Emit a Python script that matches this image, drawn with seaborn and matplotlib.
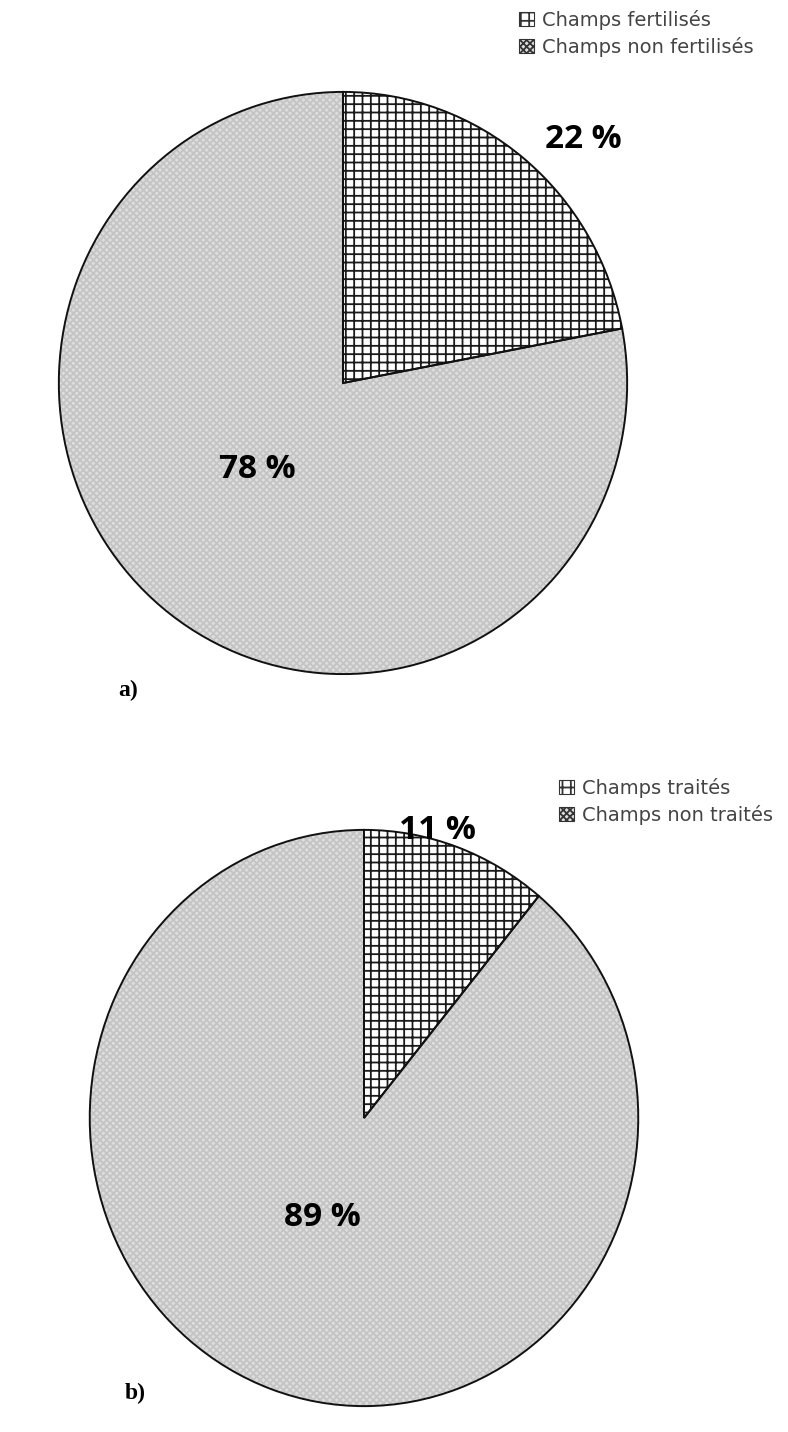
import matplotlib
matplotlib.use("Agg")
import matplotlib.pyplot as plt
import seaborn as sns
from matplotlib.patches import Patch

# données
categories_a = ['Champs fertilisés', 'Champs non fertilisés']
valeurs_a = [22, 78]
categories_b = ['Champs traités', 'Champs non traités']
valeurs_b = [11, 89]

sns.set_style('white')
plt.rcParams['hatch.linewidth'] = 1.3

W, H = 788, 1432
fig = plt.figure(figsize=(W / 100, H / 100), dpi=100)

hachures = ['++', 'xxxxx']
faces = ['white', '#dedede']
couleurs_hachures = ['#1a1a1a', '#c4c4c4']


def px(x, y):
    return x / W, 1 - y / H


def camembert(cx, cy, rx, ry, valeurs):
    ax = fig.add_axes([(cx - rx) / W, 1 - (cy + ry) / H, 2 * rx / W, 2 * ry / H])
    wedges, _ = ax.pie(valeurs, startangle=90, counterclock=False, radius=1,
                       wedgeprops=dict(linewidth=0))
    for w, f, h, c in zip(wedges, faces, hachures, couleurs_hachures):
        w.set_facecolor(f)
        w.set_hatch(h)
        w.set_edgecolor(c)
    ax.pie(valeurs, startangle=90, counterclock=False, radius=1,
           wedgeprops=dict(fill=False, edgecolor='#111111', linewidth=1.4))
    ax.set_xlim(-1.01, 1.01)
    ax.set_ylim(-1.01, 1.01)
    ax.set_aspect('auto')
    ax.axis('off')
    return ax


def legende(categories, x, y):
    poignees = [Patch(facecolor=f, hatch=h, edgecolor='#333333', linewidth=0.8)
                for f, h in zip(faces, ['++', 'xxxxx'])]
    fig.legend(poignees, categories, loc='upper left', bbox_to_anchor=px(x, y),
               frameon=False, prop=dict(family='DejaVu Sans', size=14),
               labelcolor='#444444', handlelength=0.75, handleheight=0.75,
               handletextpad=0.45, labelspacing=0.35, borderpad=0, borderaxespad=0)


def etiquette(x, y, valeur):
    fig.text(*px(x, y), f'{valeur} %', ha='center', va='center', color='black',
             family='Open Sans', weight='bold', size=24)


# a)
camembert(343, 383, 287, 294, valeurs_a)
legende(categories_a, 519, 10)
etiquette(583, 140, valeurs_a[0])
etiquette(257, 470, valeurs_a[1])
fig.text(*px(118, 690), 'a)', ha='left', va='center', color='black',
         family='Liberation Serif', weight='bold', size=17)

# b)
camembert(364, 1118, 277, 291, valeurs_b)
legende(categories_b, 559, 778)
etiquette(437, 830, valeurs_b[0])
etiquette(322, 1217, valeurs_b[1])
fig.text(*px(125, 1393), 'b)', ha='left', va='center', color='black',
         family='Liberation Serif', weight='bold', size=17)

fig.savefig('out.png', dpi=100, facecolor='white')
